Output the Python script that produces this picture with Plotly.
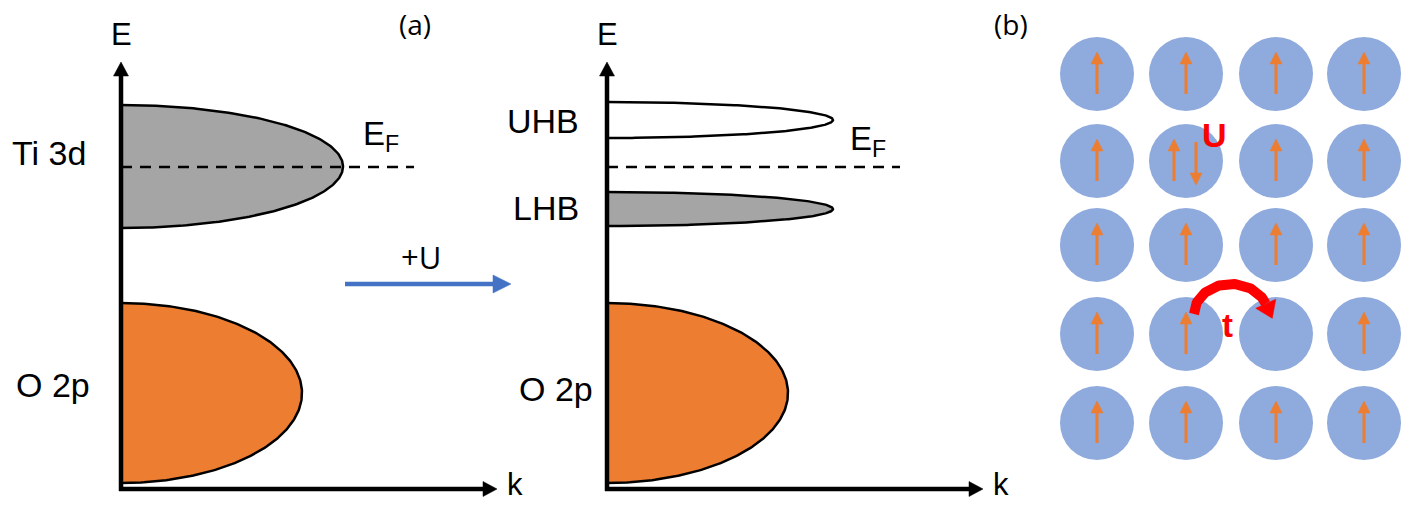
import math
import numpy as np
import plotly.graph_objects as go

# ---------------- canvas (pixel coordinates, y grows downward) ----------------
W, H = 1408, 505

# ---------------- panel (a): band diagrams ----------------
e_axis_x = [121, 607]          # E axes of the two band diagrams
e_axis_top = 62
k_axis_y = 489
k_axis_end = [497, 983]

band_names = ["Ti 3d", "O 2p", "UHB", "LHB", "O 2p"]
band_axis = [121, 121, 607, 607, 607]
band_top = [105, 303, 102, 192, 303]
band_bottom = [228, 483, 138, 226, 483]
band_tip = [343, 302, 833, 833, 788]
band_fill = ["#a5a5a5", "#ed7d31", "#ffffff", "#a5a5a5", "#ed7d31"]
band_label_x = [49, 53, 543, 546, 556]
band_label_y = [154, 386, 122, 209, 390]

fermi_y = 167
fermi_x0 = [121, 607]
fermi_x1 = [414, 900]
fermi_label_x = [361, 848]
fermi_label_y = [136, 141]

# ---------------- panel (b): lattice ----------------
col_x = [1097, 1186, 1276, 1364]
row_y = [74, 161, 245, 334, 423]
spin_grid = [
    ["up", "up", "up", "up"],
    ["up", "pair", "up", "up"],
    ["up", "up", "up", "up"],
    ["up", "up", "empty", "up"],
    ["up", "up", "up", "up"],
]
hop_from = (3, 1)   # (row, col) of the hopping electron
hop_to = (3, 2)
double_site = (1, 1)

BLACK = "#000000"
ORANGE = "#ed7d31"
BLUE = "#4472c4"
SITE = "#8faadc"
RED = "#ff0000"
FONT = "Liberation Sans, Arial, sans-serif"
FONT2 = "Open Sans, Liberation Sans, sans-serif"


def arrow_geom(x0, y0, x1, y1, head_len, head_half):
    dx, dy = x1 - x0, y1 - y0
    L = math.hypot(dx, dy)
    ux, uy = dx / L, dy / L
    bx, by = x1 - ux * head_len, y1 - uy * head_len
    shaft = ([x0, bx + ux * 1.0], [y0, by + uy * 1.0])
    head = ([x1, bx - uy * head_half, bx + uy * head_half, x1],
            [y1, by + ux * head_half, by - ux * head_half, y1])
    return shaft, head


def add_arrows(fig, arrows, color, width, head_len, head_half):
    sx, sy, hx, hy = [], [], [], []
    for (x0, y0, x1, y1) in arrows:
        (ax, ay), (bx, by) = arrow_geom(x0, y0, x1, y1, head_len, head_half)
        sx += ax + [None]
        sy += ay + [None]
        hx += bx + [None]
        hy += by + [None]
    fig.add_trace(go.Scatter(x=sx, y=sy, mode="lines",
                             line=dict(color=color, width=width),
                             hoverinfo="skip"))
    fig.add_trace(go.Scatter(x=hx, y=hy, mode="lines", fill="toself",
                             fillcolor=color, line=dict(color=color, width=0.5),
                             hoverinfo="skip"))


fig = go.Figure()

# bands: half ellipses growing from the E axis
for ax, top, bot, tip, col in zip(band_axis, band_top, band_bottom, band_tip, band_fill):
    t = np.linspace(-np.pi / 2, np.pi / 2, 200)
    yc, h = (top + bot) / 2, (bot - top) / 2
    xs = ax + (tip - ax) * np.cos(t)
    ys = yc + h * np.sin(t)
    fig.add_trace(go.Scatter(x=xs, y=ys, mode="lines", fill="toself",
                             fillcolor=col, line=dict(color=BLACK, width=2.5),
                             hoverinfo="skip"))

# Fermi levels
for x0, x1 in zip(fermi_x0, fermi_x1):
    fig.add_trace(go.Scatter(x=[x0, x1], y=[fermi_y, fermi_y], mode="lines",
                             line=dict(color=BLACK, width=2.5, dash="11px,8px"),
                             hoverinfo="skip"))

# E and k axes
axis_arrows = []
for ex, kx in zip(e_axis_x, k_axis_end):
    axis_arrows.append((ex, k_axis_y + 2, ex, e_axis_top))
    axis_arrows.append((ex - 2, k_axis_y, kx, k_axis_y))
add_arrows(fig, axis_arrows, BLACK, 4.5, 14, 7.5)

# +U transition arrow
add_arrows(fig, [(345, 284, 511, 284)], BLUE, 4.5, 18, 9)

# lattice sites
sx, sy = [], []
for r, y in enumerate(row_y):
    for c, x in enumerate(col_x):
        sx.append(x)
        sy.append(y)
fig.add_trace(go.Scatter(x=sx, y=sy, mode="markers",
                         marker=dict(size=74, color=SITE, line=dict(width=0)),
                         hoverinfo="skip"))

# spins
spin_arrows = []
for r, y in enumerate(row_y):
    for c, x in enumerate(col_x):
        s = spin_grid[r][c]
        if s == "up":
            spin_arrows.append((x, y + 20, x, y - 22))
        elif s == "pair":
            spin_arrows.append((x - 12, y + 20, x - 12, y - 22))
            spin_arrows.append((x + 10, y - 19, x + 10, y + 24))
add_arrows(fig, spin_arrows, ORANGE, 3, 12, 6)

# hopping arc
(r0, c0), (r1, c1) = hop_from, hop_to
cx = (col_x[c0] + col_x[c1]) / 2
cy = row_y[r0] - 20
rx, ry = (col_x[c1] - col_x[c0]) / 2 - 8, 30
th = np.linspace(np.pi, np.radians(20), 90)
ax_ = cx + rx * np.cos(th)
ay_ = cy - ry * np.sin(th)
fig.add_trace(go.Scatter(x=ax_, y=ay_, mode="lines",
                         line=dict(color=RED, width=10), hoverinfo="skip"))
te = th[-1]
tx, ty = rx * np.sin(te), ry * np.cos(te)
tl = math.hypot(tx, ty)
tx, ty = tx / tl, ty / tl
bx, by = ax_[-1], ay_[-1]
hl, hh = 16, 11
fig.add_trace(go.Scatter(
    x=[bx + tx * hl, bx - ty * hh, bx + ty * hh, bx + tx * hl],
    y=[by + ty * hl, by + tx * hh, by - tx * hh, by + ty * hl],
    mode="lines", fill="toself", fillcolor=RED, line=dict(color=RED, width=0.5),
    hoverinfo="skip"))

annotations = []


def label(x, y, text, size, color=BLACK, family=FONT, xanchor="center",
          yanchor="middle", bold=False):
    if bold:
        text = "<b>" + text + "</b>"
    annotations.append(dict(x=x, y=y, xref="x", yref="y", text=text,
                            showarrow=False, xanchor=xanchor, yanchor=yanchor,
                            font=dict(size=size, color=color, family=family)))


for name, lx, ly in zip(band_names, band_label_x, band_label_y):
    label(lx, ly - 1, name, 34)
for ex in e_axis_x:
    label(ex, 34, "E", 31)
for kx in k_axis_end:
    label(kx + 18, 504, "k", 31, yanchor="bottom")
for fx, fy in zip(fermi_label_x, fermi_label_y):
    label(fx, fy, "E<sub>F</sub>", 33, xanchor="left")
label(415, 24, "(a)", 28, family=FONT2)
label(1011, 24, "(b)", 28, family=FONT2)
label(421, 257, "+U", 31, family=FONT2)
label(col_x[double_site[1]] + 28, row_y[double_site[0]] - 26, "U", 34, color=RED, bold=True)
label(cx - 4, row_y[r0] - 9, "t", 33, color=RED, bold=True)

fig.update_layout(
    width=W, height=H,
    margin=dict(l=0, r=0, t=0, b=0),
    paper_bgcolor="white", plot_bgcolor="white",
    showlegend=False,
    xaxis=dict(range=[0, W], visible=False, fixedrange=True),
    yaxis=dict(range=[H, 0], visible=False, fixedrange=True),
    annotations=annotations,
)

fig.write_html("out.html", config={"displayModeBar": False})
